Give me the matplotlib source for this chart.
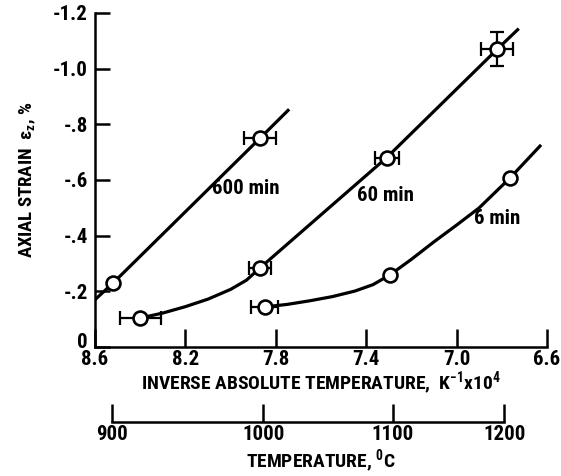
import numpy as np
import matplotlib
matplotlib.use('Agg')
import matplotlib.pyplot as plt
from matplotlib.transforms import ScaledTranslation

plt.rcParams['font.family'] = ['Roboto Condensed', 'DejaVu Sans']
plt.rcParams['font.weight'] = 'bold'
plt.rcParams['mathtext.default'] = 'regular'

# ---------------- data ----------------
# 600 min
x600 = [8.52, 7.87]
y600 = [-0.23, -0.75]
x600_err = [0.0, 0.07]
line600_x = [8.60, 8.52, 7.87, 7.746]
line600_y = [-0.17, -0.23, -0.75, -0.85]

# 60 min
x60 = [8.40, 7.87, 7.31, 6.82]
y60 = [-0.104, -0.284, -0.68, -1.07]
x60_err = [0.09, 0.05, 0.053, 0.07]
y60_err = [0.0, 0.0, 0.0, 0.06]
curve60_x = [8.40, 8.30, 8.20, 8.10, 8.00, 7.93, 7.87, 7.31, 6.82, 6.73]
curve60_y = [-0.104, -0.122, -0.145, -0.172, -0.207, -0.240, -0.284, -0.68, -1.07, -1.14]

# 6 min
x6 = [7.85, 7.295, 6.764]
y6 = [-0.144, -0.259, -0.607]
x6_err = [0.058, 0.0, 0.0]
curve6_x = [7.85, 7.75, 7.65, 7.55, 7.45, 7.37, 7.295, 7.20, 7.10, 7.00, 6.90, 6.764, 6.631]
curve6_y = [-0.144, -0.153, -0.166, -0.181, -0.201, -0.224, -0.259, -0.315, -0.378, -0.438, -0.50, -0.607, -0.722]

labels = ['600 min', '60 min', '6 min']
label_x = [7.932, 7.317, 6.821]
label_y = [-0.571, -0.546, -0.463]

yticks = [0, -0.2, -0.4, -0.6, -0.8, -1.0, -1.2]
ytick_labels = ['0', '-.2', '-.4', '-.6', '-.8', '-1.0', '-1.2']
xticks = [8.6, 8.2, 7.8, 7.4, 7.0, 6.6]
xtick_labels = ['8.6', '8.2', '7.8', '7.4', '7.0', '6.6']
temps_c = [900, 1000, 1100, 1200]

# ---------------- figure ----------------
W, H = 561, 476
fig = plt.figure(figsize=(W / 100, H / 100), dpi=100)
left, right, bottom, top = 95, 547, 347, 13
ax = fig.add_axes([left / W, 1 - bottom / H, (right - left) / W, (bottom - top) / H])

lw = 2.3
ax.plot(line600_x, line600_y, color='black', lw=lw, zorder=2, solid_joinstyle='round')
ax.plot(curve60_x, curve60_y, color='black', lw=lw, zorder=2, solid_joinstyle='round')
ax.plot(curve6_x, curve6_y, color='black', lw=lw, zorder=2, solid_joinstyle='round')

ekw = dict(fmt='none', ecolor='black', elinewidth=1.6, capsize=5, capthick=1.6, zorder=3)
ax.errorbar(x600, y600, xerr=x600_err, **ekw)
ax.errorbar(x60, y60, xerr=x60_err, yerr=y60_err, **ekw)
ax.errorbar(x6, y6, xerr=x6_err, **ekw)

mkw = dict(linestyle='none', marker='o', markersize=10, markerfacecolor='white',
           markeredgecolor='black', markeredgewidth=1.9, zorder=4)
ax.plot(x600, y600, **mkw)
ax.plot(x60, y60, **mkw)
ax.plot(x6, y6, **mkw)

for t, lx, ly in zip(labels, label_x, label_y):
    ax.text(lx, ly, t, ha='center', va='center', fontsize=15, fontweight='bold')

ax.set_xlim(8.6, 6.6)
ax.set_ylim(0, -1.2)
ax.set_xticks(xticks)
ax.set_xticklabels(xtick_labels)
ax.set_yticks(yticks)
ax.set_yticklabels(ytick_labels)
for s in ['top', 'right']:
    ax.spines[s].set_visible(False)
for s in ['left', 'bottom']:
    ax.spines[s].set_linewidth(1.8)
ax.tick_params(axis='y', direction='in', length=11, width=1.8, labelsize=15, pad=5)
ax.tick_params(axis='x', direction='in', length=13, width=1.8, labelsize=15, pad=2)
# lift the "0" label above the x axis as in the reference
zero_lbl = ax.get_yticklabels()[0]
zero_lbl.set_transform(zero_lbl.get_transform() + ScaledTranslation(0, 5 / 72, fig.dpi_scale_trans))

ax.set_xlabel('INVERSE ABSOLUTE TEMPERATURE,  K$^{-1}$x10$^{4}$', fontsize=14,
              fontweight='bold', labelpad=1)
ax.set_ylabel('AXIAL STRAIN  ε$_{z}$, %', fontsize=13.5, fontweight='bold', labelpad=11)

# secondary temperature axis
ax2 = fig.add_axes([left / W, 1 - 422 / H, (right - left) / W, 0.001])
ax2.set_xlim(8.6, 6.6)
ax2.patch.set_visible(False)
for s in ['top', 'right', 'left']:
    ax2.spines[s].set_visible(False)
tpos = [1e4 / (t + 273.15) for t in temps_c]
ax2.spines['bottom'].set_bounds(tpos[0], tpos[-1])
ax2.spines['bottom'].set_linewidth(1.8)
ax2.set_yticks([])
ax2.set_xticks(tpos)
ax2.set_xticklabels([str(t) for t in temps_c])
ax2.tick_params(axis='x', direction='in', length=13, width=1.8, labelsize=15, pad=2)
ax2.set_xlabel('TEMPERATURE, $^{0}$C', fontsize=14, fontweight='bold', labelpad=3)

fig.savefig('out.png', dpi=100)
